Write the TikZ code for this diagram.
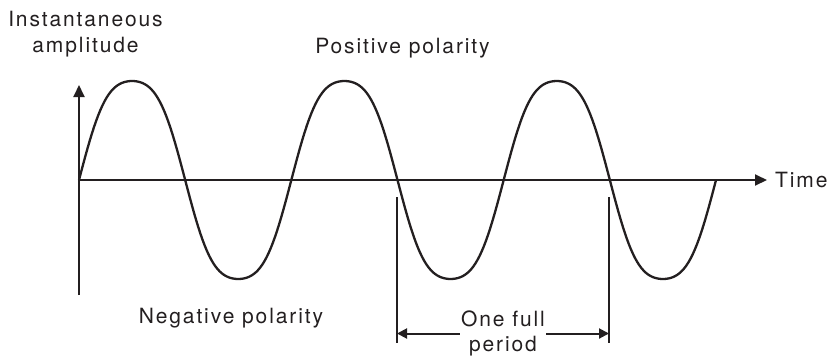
\documentclass[tikz,border=0pt]{standalone}
\usepackage{fontspec}
\usetikzlibrary{arrows.meta,positioning}
\newfontfamily\labelfont{TeX Gyre Heros}[LetterSpace=9]
\definecolor{ink}{HTML}{231F20}
\tikzset{
  every node/.style={font=\labelfont\fontsize{21}{25.5}\selectfont, text=ink},
  label/.style={inner sep=0pt, align=center},
  axis/.style={-{Triangle[length=12pt,width=11pt]}, line width=2pt, draw=ink},
  wave/.style={line width=2.3pt, draw=ink, line join=round},
  marker/.style={line width=2pt, draw=ink},
  dimarrow/.style={-{Triangle[length=10pt,width=10pt]}, line width=2pt, draw=ink},
}
\begin{document}
\begin{tikzpicture}[x=1pt,y=1pt]
\useasboundingbox (-79,-180) rectangle (756,180);
% axes
\coordinate (o) at (0,0);
\coordinate (ytop) at (0,95);
\coordinate (ybot) at (0,-115);
\coordinate (xend) at (688,0);
\draw[axis] (ybot) -- (ytop);
\draw[axis] (o) -- (xend);
% three cycles, half period 106.17, lobes a bit fuller than a sine
\draw[wave] plot[domain=0:637, samples=300]
  (\x, {106.45*(sin(\x/106.17*180)+0.07*sin(3*\x/106.17*180))});
\node[label, anchor=west, right=8pt of xend] (time) {Time};
\node[label] (amp) at (6.5,146) {Instantaneous\\amplitude};
\node[label, anchor=base] (pos) at (323.5,127) {Positive polarity};
\node[label, anchor=base] (neg) at (152,-143) {Negative polarity};
% one period
\coordinate (m1top) at (318,-17);
\coordinate (m1bot) at (318,-163);
\coordinate (m2top) at (530,-17);
\coordinate (m2bot) at (530,-163);
\draw[marker] (m1top) -- (m1bot);
\draw[marker] (m2top) -- (m2bot);
\node[label, inner xsep=1pt] (per) at (424,-153.5) {One full\\period};
\draw[dimarrow] (per.west) -- (per.west -| m1top);
\draw[dimarrow] (per.east) -- (per.east -| m2top);
\end{tikzpicture}
\end{document}
